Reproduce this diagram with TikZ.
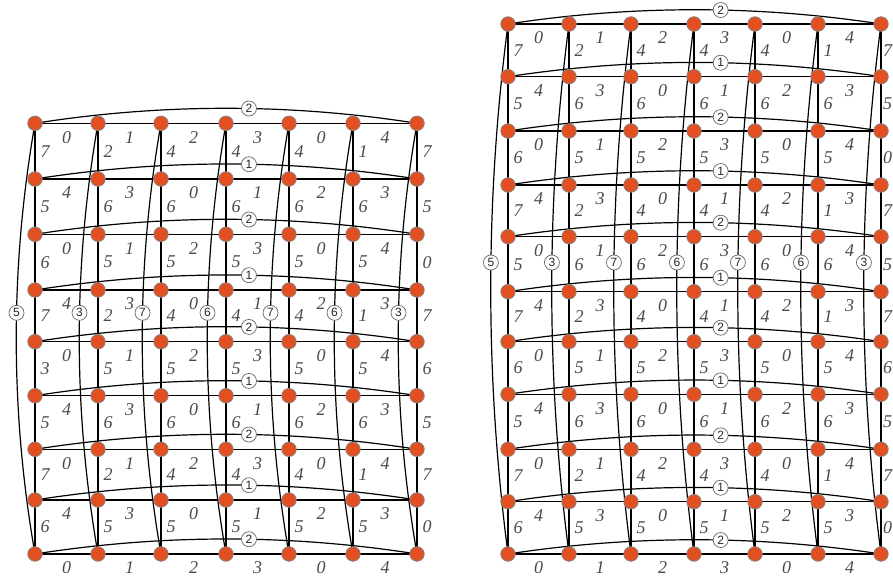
\documentclass[tikz,border=0pt]{standalone}
\usepackage{fontspec}
\setmainfont{Liberation Serif}
\newfontfamily\circfont{Liberation Sans}
\usetikzlibrary{backgrounds}
\definecolor{dotfill}{HTML}{E25022}
\definecolor{dotedge}{HTML}{858585}
\definecolor{labgray}{HTML}{4A4A4A}
\tikzset{
  dot/.style={circle, fill=dotfill, draw=dotedge, line width=0.8pt, minimum size=14.5pt, inner sep=0pt},
  edgelab/.style={font=\itshape\fontsize{18}{18}\selectfont, text=labgray, inner sep=0pt},
  circlab/.style={circle, draw=black!60, fill=white, line width=0.7pt, minimum size=15pt, inner sep=0pt, font=\circfont\fontsize{12}{12}\selectfont, text=black!85},
  link/.style={line width=1.2pt, draw=black},
}
\def\bandA{7,2,4,4,4,1,7}
\def\bandB{5,6,6,6,6,6,5}
\def\bandC{6,5,5,5,5,5,0}
\def\bandD{3,5,5,5,5,5,6}
\def\bandE{6,5,5,5,5,5,6}
\def\rowEven{0,1,2,3,0,4}
\def\rowOdd{4,3,0,1,2,3}
\begin{document}
\begin{tikzpicture}[x=1pt,y=-1pt]
\useasboundingbox (0,0) rectangle (893,577);
% ---------- dots ----------
\foreach \x [count=\c from 0] in {35,98,161,226,289,353,417}
  \foreach \y [count=\r from 0] in {123.3,179,234.3,290,341.7,395.7,449.3,500,554}
    \node[dot] (L-\r-\c) at (\x,\y) {};
\foreach \x [count=\c from 0] in {508,569,631,694,755,818,881}
  \foreach \y [count=\r from 0] in {24,76.7,131,185,236.7,291.7,341.7,394.3,449.3,501.7,554}
    \node[dot] (R-\r-\c) at (\x,\y) {};
% ---------- connectors ----------
\begin{scope}[on background layer]
  % straight lines, both grids
  \foreach \g/\nr in {L/8,R/10} {
    \foreach \rr in {0,...,\nr} {
      \foreach \cc in {0,...,5} {
        \pgfmathtruncatemacro\cn{\cc+1}
        \draw[link] (\g-\rr-\cc.center) -- (\g-\rr-\cn.center);
      }
    }
    \pgfmathtruncatemacro\nrm{\nr-1}
    \foreach \cc in {0,...,6} {
      \foreach \rr in {0,...,\nrm} {
        \pgfmathtruncatemacro\rn{\rr+1}
        \draw[link] (\g-\rr-\cc.center) -- (\g-\rn-\cc.center);
      }
    }
  }
  % left row arcs
  \foreach \r in {0,...,8} {
    \ifodd\r \def\cl{1}\else \def\cl{2}\fi
    \draw[link] (L-\r-0.center) .. controls +(127,-20) and +(-127,-20) .. (L-\r-6.center)
      node[pos=0.56, circlab] {\cl};
  }
  % right row arcs
  \foreach \r in {0,...,10} {
    \ifodd\r \def\cl{1}\else \def\cl{2}\fi
    \draw[link] (R-\r-0.center) .. controls +(124,-19) and +(-124,-19) .. (R-\r-6.center)
      node[pos=0.57, circlab] {\cl};
  }
  % left column curves
  \foreach \t [count=\c from 0] in {5,3,7,6,7,6,3}
    \draw[link] (L-0-\c.center) .. controls +(-25,143.6) and +(-25,-143.6) .. (L-8-\c.center)
      node[pos=0.44, circlab] {\t};
  % right column curves
  \foreach \t [count=\c from 0] in {5,3,7,6,7,6,3}
    \draw[link] (R-0-\c.center) .. controls +(-23,176.7) and +(-23,-176.7) .. (R-10-\c.center)
      node[pos=0.45, circlab] {\t};
\end{scope}
% ---------- edge labels ----------
% horizontal labels
\foreach \g/\nr in {L/8,R/10} {
  \foreach \rr in {0,...,\nr} {
    \ifodd\rr \let\hl\rowOdd \else \let\hl\rowEven \fi
    \foreach \t [count=\cc from 0] in \hl {
      \pgfmathtruncatemacro\cn{\cc+1}
      \path (\g-\rr-\cc.center) -- (\g-\rr-\cn.center) node[midway, yshift=-14pt, edgelab] {\t};
    }
  }
}
% vertical labels, left
\foreach \b [count=\rr from 0] in {A,B,C,A,D,B,A,C} {
  \pgfmathtruncatemacro\rn{\rr+1}
  \expandafter\let\expandafter\vl\csname band\b\endcsname
  \foreach \t [count=\cc from 0] in \vl
    \path (L-\rr-\cc.center) -- (L-\rn-\cc.center) node[midway, xshift=10pt, edgelab] {\t};
}
% vertical labels, right
\foreach \b [count=\rr from 0] in {A,B,C,A,B,A,E,B,A,C} {
  \pgfmathtruncatemacro\rn{\rr+1}
  \expandafter\let\expandafter\vl\csname band\b\endcsname
  \foreach \t [count=\cc from 0] in \vl {
    \ifnum\cc=6 \def\xs{6.5pt}\else\def\xs{10pt}\fi
    \path (R-\rr-\cc.center) -- (R-\rn-\cc.center) node[midway, xshift=\xs, edgelab] {\t};
  }
}
\end{tikzpicture}
\end{document}
